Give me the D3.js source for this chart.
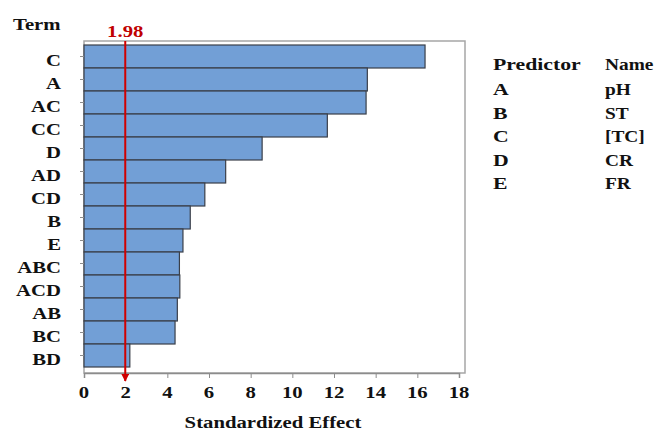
<html>
<head>
<script src="https://d3js.org/d3.v7.min.js"></script>
<style>
body { margin: 0; background: #fff; }
text { font-family: "Liberation Serif", "Times New Roman", serif; font-weight: bold; }
</style>
</head>
<body>
<div id="chart"></div>
<script>
// data
var terms = ["C","A","AC","CC","D","AD","CD","B","E","ABC","ACD","AB","BC","BD"];
var effects = [16.37,13.6,13.54,11.68,8.55,6.8,5.8,5.1,4.75,4.58,4.6,4.48,4.37,2.2];
var xTicks = [0,2,4,6,8,10,12,14,16,18];
var critical = 1.98;
var predictors = ["A","B","C","D","E"];
var names = ["pH","ST","[TC]","CR","FR"];

var width = 657, height = 431;
var sx = 1.22; // the text in the picture is stretched sideways
var svg = d3.select("#chart").append("svg").attr("width", width).attr("height", height);

// draw a stretched label at (px,py)
function label(g, px, py, str, size, anchor, color, stretch) {
  return g.append("text")
    .attr("transform", "translate(" + px + "," + py + ") scale(" + (stretch || sx) + ",1)")
    .attr("text-anchor", anchor || "start")
    .attr("font-size", size)
    .attr("fill", color || "#111")
    .text(str);
}

var x = d3.scaleLinear().domain([0, 18]).range([84, 459]);
var y = d3.scaleBand().domain(terms).range([45, 367]).padding(0);

// frame
svg.append("rect").attr("x", 84).attr("y", 41).attr("width", 381).attr("height", 332)
  .attr("fill", "none").attr("stroke", "#a6a6a6").attr("stroke-width", 1.5);

// bars
svg.append("g").selectAll("rect").data(effects).enter().append("rect")
  .attr("x", x(0))
  .attr("y", function(d, i) { return y(terms[i]); })
  .attr("width", function(d) { return x(d) - x(0); })
  .attr("height", y.bandwidth())
  .attr("fill", "#729fd6")
  .attr("stroke", "#3a3f48")
  .attr("stroke-width", 1.2);

// axes (tick marks from d3, labels redrawn stretched)
var xAxis = svg.append("g").attr("transform", "translate(0,373)")
  .call(d3.axisBottom(x).tickValues(xTicks).tickSize(5).tickFormat(""));
xAxis.select(".domain").attr("stroke", "#8c8c8c").attr("stroke-width", 1.5);
xAxis.selectAll(".tick line").attr("stroke", "#8c8c8c");
xTicks.forEach(function(t) { label(svg, x(t), 398, t, 17, "middle"); });

var yAxis = svg.append("g").attr("transform", "translate(84,0)")
  .call(d3.axisLeft(y).tickSize(4).tickFormat(""));
yAxis.select(".domain").remove();
yAxis.selectAll(".tick line").attr("stroke", "#8c8c8c");
terms.forEach(function(t) { label(svg, 61, y(t) + y.bandwidth() / 2 + 9, t, 17, "end"); });

// reference line
var defs = svg.append("defs");
defs.append("marker").attr("id", "arr").attr("viewBox", "0 0 10 10")
  .attr("refX", 9).attr("refY", 5).attr("markerWidth", 4).attr("markerHeight", 4)
  .attr("orient", "auto")
  .append("path").attr("d", "M0,0L10,5L0,10z").attr("fill", "#d00000");
svg.append("line").attr("x1", x(critical)).attr("x2", x(critical))
  .attr("y1", 41).attr("y2", 381)
  .attr("stroke", "#d00000").attr("stroke-width", 2).attr("marker-end", "url(#arr)");
label(svg, x(critical), 37, critical.toFixed(2), 17, "middle", "#c00000");

// titles
label(svg, 13, 30, "Term", 17);
label(svg, 273, 428, "Standardized Effect", 17, "middle");

// predictor table
var tbl = svg.append("g");
label(tbl, 493, 70, "Predictor", 17, "start", "#111", 1.28);
label(tbl, 605, 70, "Name", 17, "start", "#111", 1.14);
predictors.forEach(function(p, i) {
  label(tbl, 493, 95 + i * 23.6, p, 17, "start", "#111", 1.28);
  label(tbl, 605, 95 + i * 23.6, names[i], 17, "start", "#111", 1.14);
});
</script>
</body>
</html>
